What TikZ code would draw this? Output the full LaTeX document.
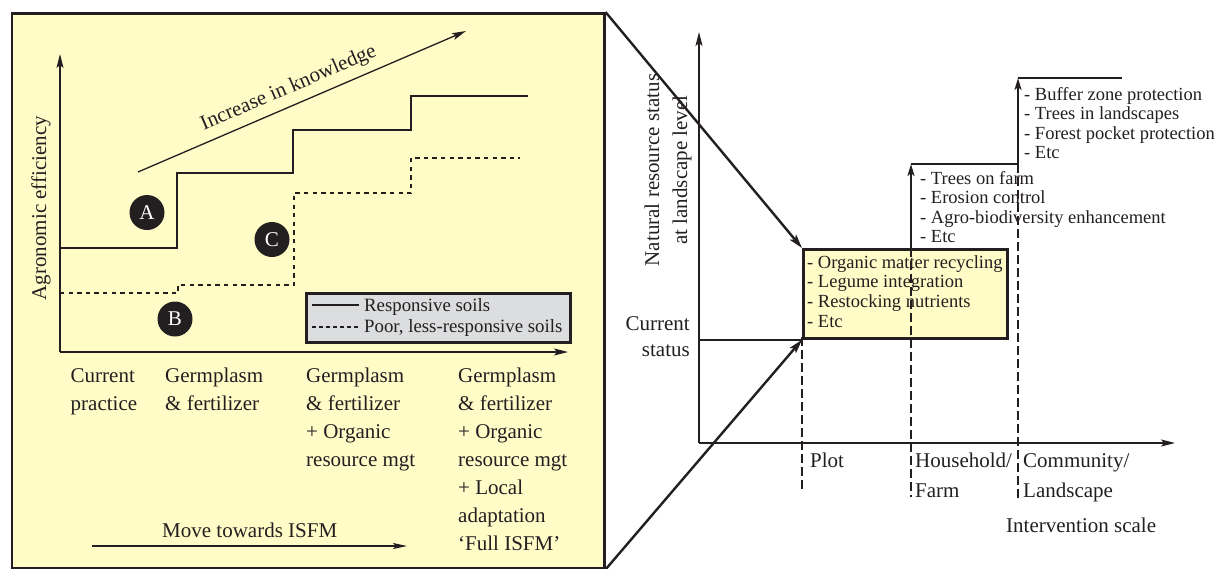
\documentclass[tikz,border=0pt]{standalone}
\usepackage{fontspec}
\setmainfont{Liberation Serif}
\usetikzlibrary{arrows.meta}
\definecolor{ink}{RGB}{35,31,32}
\definecolor{paper}{RGB}{255,252,200}
\definecolor{legendgray}{RGB}{220,221,222}
\begin{document}
\begin{tikzpicture}[x=1pt,y=-1pt,
  every node/.style={inner sep=0pt, text=ink},
  bigtext/.style={font=\fontsize{21}{28}\selectfont, align=left, anchor=base west},
  smalltext/.style={font=\fontsize{18.5}{19.6}\selectfont, align=left, anchor=base west},
  legtext/.style={font=\fontsize{18.8}{21}\selectfont, anchor=base west},
  stepline/.style={draw=ink, line width=2.6pt},
  dotline/.style={draw=ink, line width=2.5pt, dash pattern=on 4.3pt off 4.3pt},
  guideline/.style={draw=ink, line width=1.1pt, dash pattern=on 9pt off 4pt},
  axisline/.style={draw=ink, line width=1.2pt, -{Stealth[length=14pt,width=7pt,inset=3pt]}},
  diagline/.style={draw=ink, line width=2.4pt, -{Stealth[length=14pt,width=8pt,inset=3pt]}},
  uparrow/.style={draw=ink, line width=2.4pt, -{Stealth[length=12pt,width=7pt,inset=3pt]}},
  badge/.style={circle, fill=ink, minimum size=35pt, text=white, font=\fontsize{21}{21}\selectfont},
]
\useasboundingbox (0,0) rectangle (1227,568);

% ---------------- left panel ----------------
\node[draw=ink, line width=2.5pt, fill=paper, minimum width=592.5pt, minimum height=555pt, anchor=north west] (panel) at (10.5,12) {};

\coordinate (o1) at (60,352);
\coordinate (ytip1) at (60,54);
\coordinate (xtip1) at (568,352);
\draw[axisline] (o1) -- (ytip1);
\draw[axisline] (o1) -- (xtip1);

\node[font=\fontsize{21}{21}\selectfont, rotate=90, anchor=base] (ylab1) at (46,208) {Agronomic efficiency};

% staircases
\draw[stepline] (60,248) -- (177,248) -- (177,173) -- (293,173) -- (293,130) -- (411,130) -- (411,96) -- (528,96);
\draw[dotline] (60,293) -- (178,293) -- (178,285) -- (294,285) -- (294,193) -- (411,193) -- (411,158) -- (520,158);

% knowledge arrow
\coordinate (k1) at (138,172);
\coordinate (k2) at (466,31);
\draw[draw=ink, line width=1.3pt, -{Stealth[length=14pt,width=7pt,inset=3pt]}] (k1) -- node[sloped, pos=0.48, above=7pt, font=\fontsize{21}{21}\selectfont] (know) {Increase in knowledge} (k2);

% badges
\node[badge] (A) at (147,212.5) {A};
\node[badge] (B) at (175,319) {B};
\node[badge] (C) at (272,239.5) {C};

% legend
\node[draw=ink, line width=2.7pt, fill=legendgray, minimum width=264pt, minimum height=49pt, anchor=north west] (legend) at (305,292) {};
\coordinate (ls1) at (312,305);
\coordinate (le1) at (359,305);
\coordinate (ls2) at (312,327);
\coordinate (le2) at (359,327);
\draw[draw=ink, line width=2.2pt] (ls1) -- (le1);
\draw[dotline, line width=2.2pt, dash pattern=on 3.5pt off 3.5pt] (ls2) -- (le2);
\node[legtext] (leg1) at (364,311.7) {Responsive soils};
\node[legtext] (leg2) at (364,332.7) {Poor, less-responsive soils};

% category labels (anchor = baseline of last line)
\node[bigtext] (cat1) at (70.5,410) {Current\\practice};
\node[bigtext] (cat2) at (165,410) {Germplasm\\\& fertilizer};
\node[bigtext] (cat3) at (306,466) {Germplasm\\\& fertilizer\\+ Organic\\resource mgt};
\node[bigtext] (cat4) at (458,550) {Germplasm\\\& fertilizer\\+ Organic\\resource mgt\\+ Local\\adaptation\\‘Full ISFM’};

\node[bigtext] (move) at (162,537) {Move towards ISFM};
\coordinate (m1) at (92,546);
\coordinate (m2) at (407,546);
\draw[draw=ink, line width=1.2pt, -{Stealth[length=14pt,width=6pt,inset=3pt]}] (m1) -- (m2);

% ---------------- right panel ----------------
\coordinate (o2) at (699,443);
\coordinate (ytip2) at (699,32);
\coordinate (xtip2) at (1175,443);
\draw[axisline] (o2) -- (ytip2);
\draw[axisline] (o2) -- (xtip2);

\node[font=\fontsize{21}{21}\selectfont, rotate=90, anchor=base] (ylab2a) at (659,170) {Natural resource status};
\node[font=\fontsize{21}{21}\selectfont, rotate=90, anchor=base] (ylab2b) at (687,170) {at landscape level};

\node[font=\fontsize{21}{26}\selectfont, align=right, anchor=base east] (cur) at (690,356) {Current\\status};

% plot box
\node[draw=ink, line width=2.8pt, fill=paper, minimum width=204pt, minimum height=89pt, anchor=north west] (box) at (802,248) {};
\node[smalltext] (boxtext) at (807,327.1) {- Organic matter recycling\\- Legume integration\\- Restocking nutrients\\- Etc};

\draw[stepline, line width=2.2pt] (o2 |- box.south west) -- (box.south west);

% guide lines
\coordinate (g1top) at (802,337);
\coordinate (g1bot) at (802,492);
\coordinate (g2top) at (911,248);
\coordinate (g2bot) at (911,497);
\coordinate (g3top) at (1018,164);
\coordinate (g3bot) at (1018,498);
\draw[guideline] (g1top) -- (g1bot);
\draw[guideline] (g2top) -- (g2bot);
\draw[guideline] (g3top) -- (g3bot);

% steps
\coordinate (s1) at (911,164);
\coordinate (s2) at (1018,164);
\coordinate (s3) at (1018,78);
\coordinate (s4) at (1122,78);
\draw[uparrow] (g2top) -- (s1);
\draw[stepline] (s1) -- (s2);
\draw[uparrow] (s2) -- (s3);
\draw[stepline] (s3) -- (s4);

\node[smalltext] (farmtext) at (920,242.8) {- Trees on farm\\- Erosion control\\- Agro-biodiversity enhancement\\- Etc};
\node[smalltext] (landtext) at (1024,158.8) {- Buffer zone protection\\- Trees in landscapes\\- Forest pocket protection\\- Etc};

% scale labels
\node[bigtext, font=\fontsize{21}{30}\selectfont] (plot) at (810,467) {Plot};
\node[bigtext, font=\fontsize{21}{30}\selectfont] (house) at (915,497) {Household/\\Farm};
\node[bigtext, font=\fontsize{21}{30}\selectfont] (comm) at (1023,497) {Community/\\Landscape};
\node[bigtext] (iscale) at (1006,532) {Intervention scale};

% connectors from left panel
\draw[diagline] (panel.north east) -- (box.north west);
\draw[diagline] (panel.south east) -- (box.south west);
\end{tikzpicture}
\end{document}
